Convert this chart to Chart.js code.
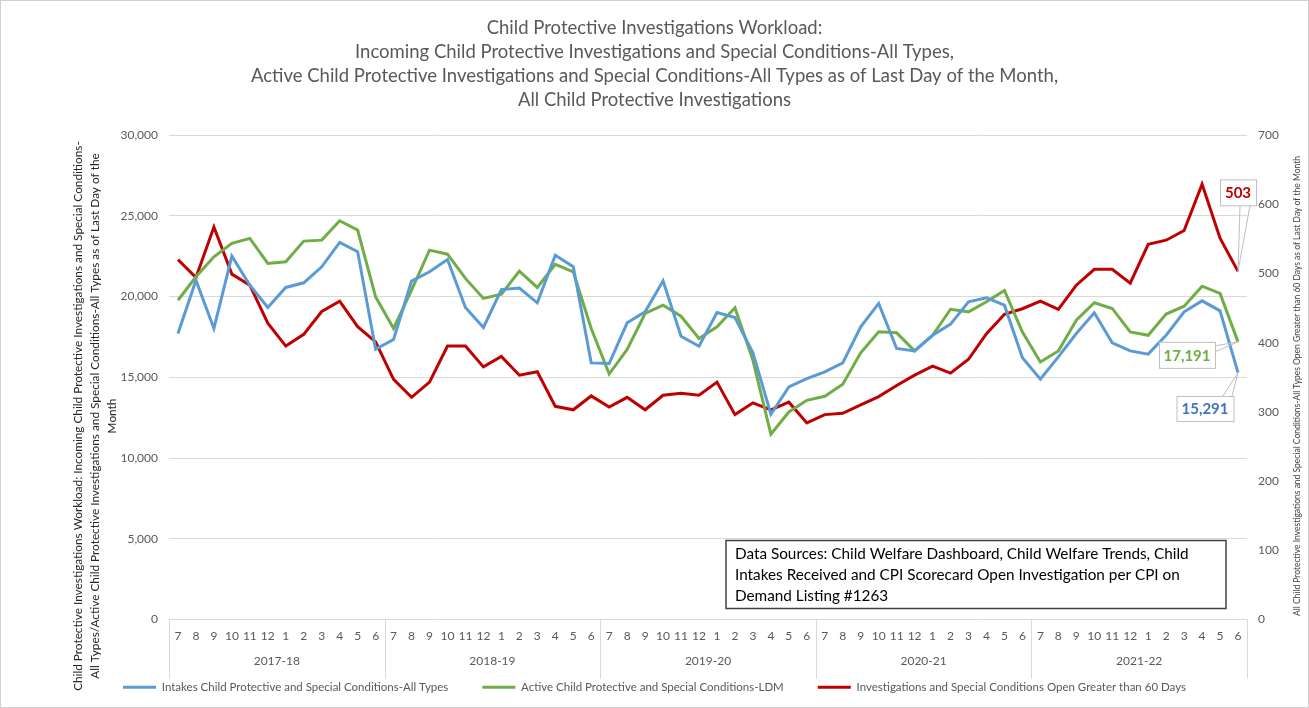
<!DOCTYPE html>
<html>
<head>
<meta charset="utf-8">
<script src="https://cdn.jsdelivr.net/npm/chart.js@4.4.0/dist/chart.umd.min.js"></script>
<style>
  html, body { margin: 0; padding: 0; background: #fff; }
  #wrap { width: 1309px; height: 708px; }
</style>
</head>
<body>
<div id="wrap"><canvas id="chart" width="1309" height="708"></canvas></div>
<script>
// Fiscal years, each split into months 7..6
const fiscalYears = ["2017-18", "2018-19", "2019-20", "2020-21", "2021-22"];
const monthNames = ["7", "8", "9", "10", "11", "12", "1", "2", "3", "4", "5", "6"];

// Intakes Child Protective and Special Conditions-All Types (left axis)
const intakes = [
  17710, 21010, 18020, 22500, 20700, 19320, 20560, 20850, 21840, 23350, 22770, 16740,
  17340, 20950, 21530, 22290, 19320, 18080, 20430, 20520, 19610, 22560, 21840, 15890,
  15850, 18370, 19050, 20970, 17540, 16920, 19010, 18700, 16510, 12710, 14400, 14920,
  15330, 15890, 18120, 19570, 16780, 16630, 17600, 18290, 19670, 19920, 19460, 16210,
  14880, 16260, 17710, 18990, 17130, 16630, 16430, 17600, 19050, 19730, 19110, 15291
];

// Active Child Protective and Special Conditions-LDM (left axis)
const active = [
  19770, 21220, 22460, 23290, 23600, 22050, 22150, 23430, 23490, 24690, 24110, 19980,
  18020, 20390, 22870, 22620, 21120, 19880, 20140, 21570, 20560, 21990, 21530, 18020,
  15200, 16720, 18950, 19460, 18780, 17400, 18120, 19300, 16050, 11470, 12850, 13570,
  13820, 14570, 16510, 17810, 17750, 16630, 17600, 19210, 19050, 19670, 20370, 17800,
  15950, 16630, 18530, 19610, 19260, 17810, 17600, 18910, 19400, 20640, 20190, 17191
];

// Investigations and Special Conditions Open Greater than 60 Days (right axis)
const openOver60 = [
  520, 494, 567, 499, 483, 428, 395, 412, 445, 460, 423, 401,
  347, 321, 343, 395, 395, 365, 380, 353, 358, 308, 303, 323,
  307, 321, 303, 324, 327, 324, 343, 296, 313, 303, 314, 284,
  296, 298, 310, 322, 338, 353, 366, 356, 376, 413, 441, 449,
  460, 448, 483, 506, 506, 486, 542, 548, 562, 629, 551, 503
];

const leftTicks = { min: 0, max: 30000, step: 5000 };
const rightTicks = { min: 0, max: 700, step: 100 };

const labels = fiscalYears.flatMap(() => monthNames);

const FONT = "Lato, 'Open Sans', sans-serif";
const GREY = "#595959";

const leftTitle = [
  "Child Protective Investigations Workload: Incoming Child Protective Investigations and Special Conditions-",
  "All Types/Active Child Protective Investigations and Special Conditions-All Types as of Last Day of the",
  "Month"
];
const rightTitle = "All Child Protective Investigations and Special Conditions-All Types Open Greater than 60 Days as of Last Day of the Month";
const sourceNote = [
  "Data Sources: Child Welfare Dashboard, Child Welfare Trends, Child",
  "Intakes Received and CPI Scorecard Open Investigation per CPI on",
  "Demand Listing #1263"
];

// end-of-series callouts, placed relative to the last point of each dataset
const callouts = [
  { ds: 2, color: "#C00000", dx: 0, dy: -79, w: 36, h: 26, a: [2, 13], b: [12, 13] },
  { ds: 1, color: "#70AD47", dx: -51, dy: 13, w: 56, h: 26, a: [28, -9], b: [28, -3] },
  { ds: 0, color: "#4472C4", dx: -33, dy: 36, w: 57, h: 25, a: [18, -12.5], b: [27, -12.5] }
];

const extras = {
  id: "extras",
  beforeDraw(chart) {
    const { ctx, width, height } = chart;
    ctx.save();
    ctx.fillStyle = "#fff";
    ctx.fillRect(0, 0, width, height);
    ctx.strokeStyle = "#d0d0d0";
    ctx.lineWidth = 1;
    ctx.strokeRect(0.5, 0.5, width - 1, height - 1);
    ctx.restore();
  },
  afterDraw(chart) {
    const { ctx, chartArea: area } = chart;
    const x = chart.scales.x;
    const per = monthNames.length;
    const half = (x.getPixelForValue(1) - x.getPixelForValue(0)) / 2;

    ctx.save();
    // year groups under the month labels
    ctx.strokeStyle = "#d9d9d9";
    ctx.lineWidth = 1;
    ctx.fillStyle = GREY;
    ctx.font = "12px " + FONT;
    ctx.textAlign = "center";
    ctx.textBaseline = "middle";
    fiscalYears.forEach((fy, g) => {
      const l = x.getPixelForValue(g * per) - half;
      const r = x.getPixelForValue(g * per + per - 1) + half;
      [l, r].forEach((px) => {
        ctx.beginPath();
        ctx.moveTo(Math.round(px) + 0.5, area.bottom);
        ctx.lineTo(Math.round(px) + 0.5, area.bottom + 59);
        ctx.stroke();
      });
      ctx.fillText(fy, (l + r) / 2, area.bottom + 42);
    });

    // axis titles
    ctx.fillStyle = "#262626";
    ctx.font = "11.8px " + FONT;
    ctx.translate(95, 416);
    ctx.rotate(-Math.PI / 2);
    leftTitle.forEach((line, i) => ctx.fillText(line, 0, (i - 1) * 17));
    ctx.setTransform(1, 0, 0, 1, 0, 0);
    ctx.fillStyle = "#404040";
    ctx.font = "8.5px " + FONT;
    ctx.translate(1297, 386);
    ctx.rotate(-Math.PI / 2);
    ctx.fillText(rightTitle, 0, 0);
    ctx.setTransform(1, 0, 0, 1, 0, 0);

    // data source note
    const bx = area.right - 521, by = area.bottom - 79;
    ctx.fillStyle = "#fff";
    ctx.fillRect(bx, by, 500, 68);
    ctx.strokeStyle = "#404040";
    ctx.lineWidth = 1.5;
    ctx.strokeRect(bx, by, 500, 68);
    ctx.fillStyle = "#000";
    ctx.font = "15.3px " + FONT;
    ctx.textAlign = "left";
    sourceNote.forEach((line, i) => ctx.fillText(line, bx + 9, by + 14 + i * 21));

    // callouts for the last values
    callouts.forEach((c) => {
      const meta = chart.getDatasetMeta(c.ds);
      const pt = meta.data[meta.data.length - 1];
      const values = chart.data.datasets[c.ds].data;
      const cx = pt.x + c.dx, cy = pt.y + c.dy;
      ctx.strokeStyle = "#bfbfbf";
      ctx.lineWidth = 1;
      ctx.beginPath();
      ctx.moveTo(cx + c.a[0], cy + c.a[1]);
      ctx.lineTo(pt.x, pt.y);
      ctx.lineTo(cx + c.b[0], cy + c.b[1]);
      ctx.stroke();
      ctx.fillStyle = "#fff";
      ctx.fillRect(cx - c.w / 2, cy - c.h / 2, c.w, c.h);
      ctx.strokeRect(cx - c.w / 2 + 0.5, cy - c.h / 2 + 0.5, c.w, c.h);
      ctx.fillStyle = c.color;
      ctx.font = "bold 15px " + FONT;
      ctx.textAlign = "center";
      ctx.fillText(values[values.length - 1].toLocaleString("en-US"), cx, cy + 1);
    });
    ctx.restore();
  }
};

new Chart(document.getElementById("chart"), {
  type: "line",
  data: {
    labels: labels,
    datasets: [
      {
        label: "Intakes Child Protective and Special Conditions-All Types",
        data: intakes,
        borderColor: "#5B9BD5",
        backgroundColor: "#5B9BD5",
        borderWidth: 3,
        yAxisID: "y"
      },
      {
        label: "Active Child Protective and Special Conditions-LDM",
        data: active,
        borderColor: "#70AD47",
        backgroundColor: "#70AD47",
        borderWidth: 3,
        yAxisID: "y"
      },
      {
        label: "Investigations and Special Conditions Open Greater than 60 Days",
        data: openOver60,
        borderColor: "#C00000",
        backgroundColor: "#C00000",
        borderWidth: 3,
        yAxisID: "y1"
      }
    ]
  },
  options: {
    responsive: false,
    animation: false,
    layout: { padding: { left: 0, right: 0, top: 0, bottom: 5 } },
    elements: {
      line: { tension: 0 },
      point: { radius: 0, hoverRadius: 0 }
    },
    scales: {
      x: {
        offset: true,
        grid: { display: false, drawTicks: false },
        border: { display: false },
        ticks: {
          autoSkip: false,
          maxRotation: 0,
          padding: 9,
          color: GREY,
          font: { family: FONT, size: 12 }
        },
        afterFit: (scale) => { scale.height = 28; }
      },
      y: {
        position: "left",
        min: leftTicks.min,
        max: leftTicks.max,
        grid: { color: "#d9d9d9", drawTicks: false },
        border: { display: false },
        ticks: {
          stepSize: leftTicks.step,
          padding: 11,
          color: GREY,
          font: { family: FONT, size: 12 },
          callback: (v) => v.toLocaleString("en-US")
        },
        afterFit: (scale) => { scale.width = 169; }
      },
      y1: {
        position: "right",
        min: rightTicks.min,
        max: rightTicks.max,
        grid: { display: false, drawTicks: false },
        border: { display: false },
        ticks: {
          stepSize: rightTicks.step,
          padding: 11,
          color: GREY,
          font: { family: FONT, size: 12 }
        },
        afterFit: (scale) => { scale.width = 62; }
      }
    },
    plugins: {
      title: {
        display: true,
        text: [
          "Child Protective Investigations Workload:",
          "Incoming Child Protective Investigations and Special Conditions-All Types,",
          "Active Child Protective Investigations and Special Conditions-All Types as of Last Day of the Month,",
          "All Child Protective Investigations"
        ],
        color: GREY,
        font: { family: FONT, size: 18.5, weight: "normal", lineHeight: 24 / 18.5 },
        padding: { top: 16, bottom: 23 }
      },
      legend: {
        position: "bottom",
        labels: {
          usePointStyle: true,
          pointStyle: "line",
          pointStyleWidth: 33,
          padding: 34,
          color: GREY,
          font: { family: FONT, size: 11.5 }
        }
      },
      tooltip: { enabled: false }
    }
  },
  plugins: [extras]
});
</script>
</body>
</html>
